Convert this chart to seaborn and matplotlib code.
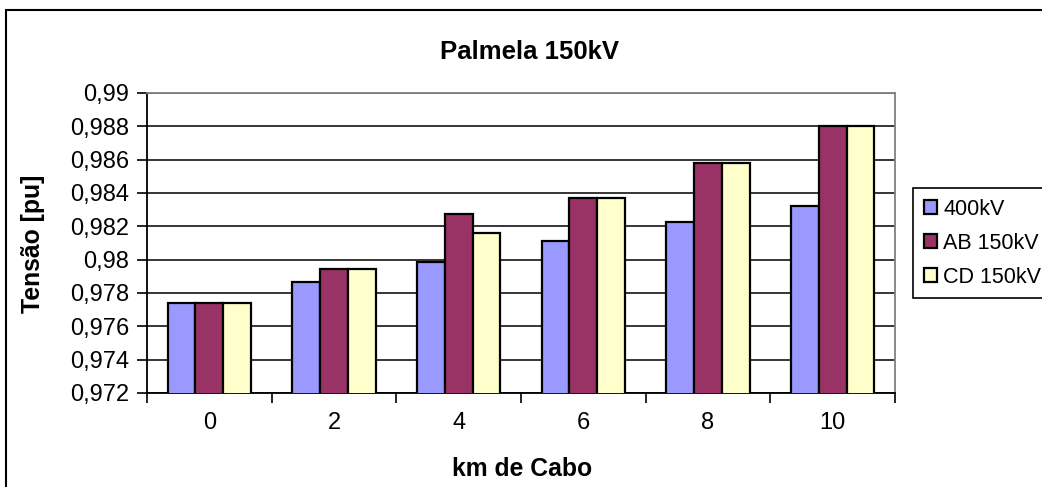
import matplotlib
matplotlib.use('Agg')
import matplotlib.pyplot as plt
from matplotlib.patches import Rectangle
from matplotlib.ticker import FixedLocator, FuncFormatter
import seaborn as sns
import pandas as pd

# data
km = ['0', '2', '4', '6', '8', '10']
series = ['400kV', 'AB 150kV', 'CD 150kV']
v_400 = [0.97741, 0.97866, 0.97988, 0.98111, 0.98223, 0.98325]
v_ab = [0.97741, 0.97946, 0.98275, 0.98367, 0.98583, 0.98800]
v_cd = [0.97741, 0.97946, 0.98160, 0.98367, 0.98583, 0.98800]
colors = ['#9999FF', '#993366', '#FFFFCC']

rows = []
for name, vals in zip(series, [v_400, v_ab, v_cd]):
    for k, v in zip(km, vals):
        rows.append([k, name, v])
df = pd.DataFrame(rows, columns=['km', 'serie', 'tensao'])

sns.set_theme(style='white')
plt.rcParams['font.family'] = ['Liberation Sans', 'DejaVu Sans']
plt.rcParams['text.color'] = 'black'
plt.rcParams['xtick.color'] = 'black'
plt.rcParams['ytick.color'] = 'black'
plt.rcParams['axes.labelcolor'] = 'black'

fig = plt.figure(figsize=(10.42, 4.87), dpi=100)
ax = fig.add_axes([147 / 1042, 1 - 393 / 487, (895 - 147) / 1042, (393 - 93) / 487])

sns.barplot(data=df, x='km', y='tensao', hue='serie', order=km, hue_order=series,
            palette=colors, width=0.67, edgecolor='black', linewidth=1.6,
            saturation=1, ax=ax, zorder=3)

ax.set_ylim(0.972, 0.99)
yt = [round(0.972 + 0.002 * i, 3) for i in range(10)]
ax.yaxis.set_major_locator(FixedLocator(yt))
ax.yaxis.set_major_formatter(FuncFormatter(lambda v, p: ('%g' % round(v, 3)).replace('.', ',')))
ax.grid(axis='y', color='black', linewidth=1.1, zorder=0)
ax.set_axisbelow(True)

ax.set_xlim(-0.5, 5.5)
ax.set_xticks(range(len(km)))
ax.set_xticks([i - 0.5 for i in range(len(km) + 1)], minor=True)
ax.tick_params(axis='x', which='major', length=0, pad=14, labelsize=17)
ax.tick_params(axis='x', which='minor', length=7, width=1.2, direction='out', color='black', bottom=True)
ax.tick_params(axis='y', length=7, width=1.2, direction='out', color='black', left=True, pad=6, labelsize=17)

for s in ['left', 'bottom']:
    ax.spines[s].set_color('black')
    ax.spines[s].set_linewidth(1.3)
for s in ['top', 'right']:
    ax.spines[s].set_color('#808080')
    ax.spines[s].set_linewidth(1.3)

ax.set_xlabel('')
ax.set_ylabel('')
fig.text(522 / 1042, 1 - 469 / 487, 'km de Cabo', ha='center', va='center', fontsize=17.8, fontweight='bold')
fig.text(33 / 1042, 1 - 244 / 487, 'Tensão [pu]', ha='center', va='center', rotation=90, fontsize=17.8, fontweight='bold')
fig.text(530 / 1042, 1 - 52 / 487, 'Palmela 150kV', ha='center', va='center', fontsize=18.5, fontweight='bold')

leg = ax.legend(loc='upper left', bbox_to_anchor=(913 / 1042, 1 - 188 / 487), bbox_transform=fig.transFigure,
                fontsize=15.5, frameon=True, fancybox=False, edgecolor='black', framealpha=1,
                handlelength=0.6, handleheight=0.6, handletextpad=0.3, borderpad=0.5,
                labelspacing=0.6, borderaxespad=0)
leg.get_frame().set_linewidth(1.2)

fig.patches.append(Rectangle((6 / 1042, -0.1), 2, 1.1 - 10 / 487, transform=fig.transFigure,
                             fill=False, edgecolor='black', linewidth=1.5))

fig.savefig('out.png', dpi=100)
